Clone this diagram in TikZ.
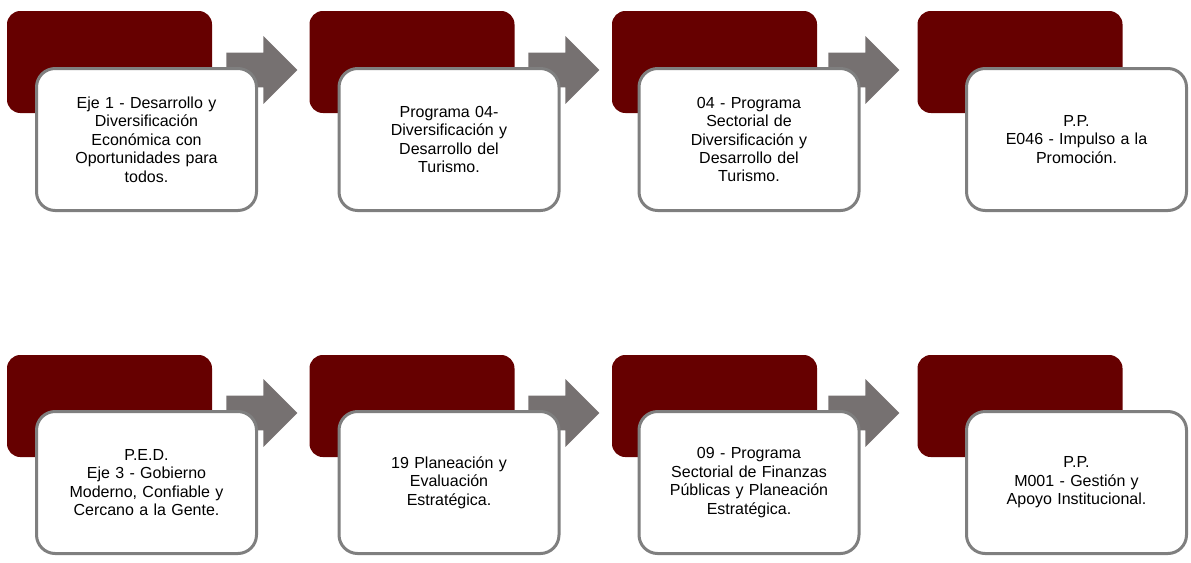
\documentclass[tikz,border=0pt]{standalone}
\usepackage{fontspec}
\setmainfont{Liberation Sans}
\usetikzlibrary{positioning,shapes.arrows}
\definecolor{guinda}{HTML}{660000}
\definecolor{flecha}{HTML}{767171}
\definecolor{borde}{HTML}{7F7F7F}

\begin{document}
\begin{tikzpicture}[
      x=0.75pt, y=-0.75pt,
      fondo/.style={fill=guinda,rounded corners=10pt,minimum width=153.75pt,minimum height=76.5pt,inner sep=0pt},
      caja/.style={draw=borde,line width=2.25pt,fill=white,rounded corners=14pt,minimum width=165pt,minimum height=106.5pt,
                   text width=150pt,align=center,inner sep=0pt,font=\fontsize{12pt}{13.8pt}\selectfont},
      flechita/.style={single arrow,fill=flecha,minimum height=53.25pt,inner xsep=0pt,inner ysep=12.75pt,
                       single arrow head extend=12.4pt,anchor=tail}
    ]
    \useasboundingbox (0,0) rectangle (1191,562);
    % fila 1
    \node[fondo] (f1) at (109.5,62) {};
    \node[fondo] (f2) at (412,62) {};
    \node[fondo] (f3) at (714.5,62) {};
    \node[fondo] (f4) at (1020,62) {};
    \node[flechita] (a1) at (226,70) {};
    \node[flechita] (a2) at (528,70) {};
    \node[flechita] (a3) at (828,70) {};
    \node[caja] (c1) at (146.5,139.5) {Eje 1 - Desarrollo y\\Diversificación\\Económica con\\Oportunidades para\\todos.};
    \node[caja] (c2) at (449,139.5) {Programa 04-\\Diversificación y\\Desarrollo del\\Turismo.};
    \node[caja] (c3) at (749,139.5) {04 - Programa\\Sectorial de\\Diversificación y\\Desarrollo del\\Turismo.};
    \node[caja] (c4) at (1076.5,139.5) {P.P.\\E046 - Impulso a la\\Promoción.};
    % fila 2
    \node[fondo] (f5) at (109.5,406) {};
    \node[fondo] (f6) at (412,406) {};
    \node[fondo] (f7) at (714.5,406) {};
    \node[fondo] (f8) at (1020,406) {};
    \node[flechita] (a5) at (226,413) {};
    \node[flechita] (a6) at (528,413) {};
    \node[flechita] (a7) at (828,413) {};
    \node[caja] (c5) at (146.5,482.5) {P.E.D.\\Eje 3 - Gobierno\\Moderno, Confiable y\\Cercano a la Gente.};
    \node[caja] (c6) at (449,482.5) {19 Planeación y\\Evaluación\\Estratégica.};
    \node[caja] (c7) at (749,482.5) {09 - Programa\\Sectorial de Finanzas\\Públicas y Planeación\\Estratégica.};
    \node[caja] (c8) at (1076.5,482.5) {P.P.\\M001 - Gestión y\\Apoyo Institucional.};
\end{tikzpicture}
\end{document}
